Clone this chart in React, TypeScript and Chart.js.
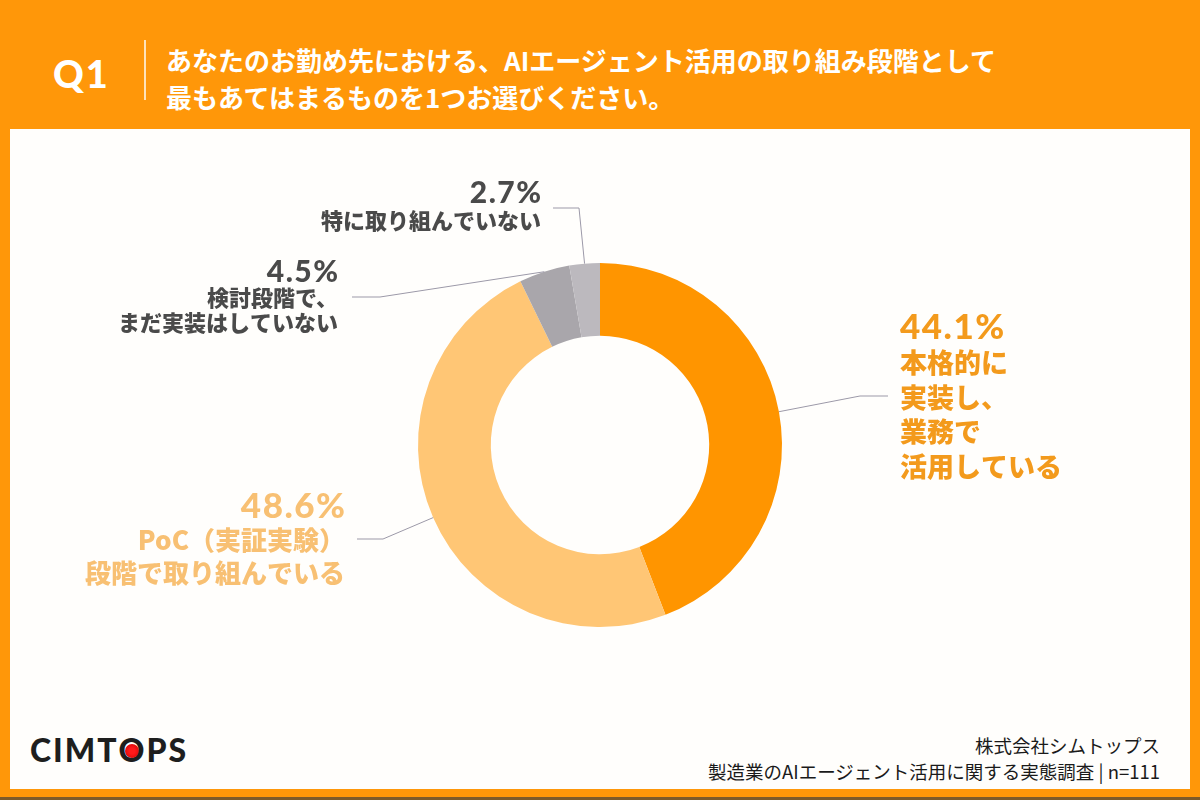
import { useEffect, useRef } from "react";
import { Chart, registerables } from "chart.js";

Chart.register(...registerables);

// Survey answers, clockwise from 12 o'clock
const categories = [
  "本格的に実装し、業務で活用している",
  "PoC（実証実験）段階で取り組んでいる",
  "検討段階で、まだ実装はしていない",
  "特に取り組んでいない",
];
const shares = [44.1, 48.6, 4.5, 2.7];
const sliceColors = ["#FF9500", "#FFC675", "#A9A6AB", "#BCB9BE"];
const labelLines = [
  ["本格的に", "実装し、", "業務で", "活用している"],
  ["PoC（実証実験）", "段階で取り組んでいる"],
  ["検討段階で、", "まだ実装はしていない"],
  ["特に取り組んでいない"],
];
const labelColors = ["#F39A1C", "#F8C073", "#4A4A4A", "#4A4A4A"];

// Callout placement (page pixels): leader elbow/end and text block
const callouts = [
  { align: "left", elbow: [860, 396], end: [888, 396], x: 900, pctY: 328, pctSize: 35, size: 27, firstY: 363, gap: 34.5 },
  { align: "right", elbow: [383, 539], end: [357, 539], x: 345, pctY: 507, pctSize: 35, size: 26, firstY: 540, gap: 33 },
  { align: "right", elbow: [380, 297], end: [352, 297], x: 338, pctY: 272, pctSize: 30, size: 22, firstY: 298, gap: 25 },
  { align: "right", elbow: [579, 208], end: [553, 208], x: 541, pctY: 193, pctSize: 30, size: 22, firstY: 221, gap: 25 },
];

const JP = '"Noto Sans CJK JP", "Noto Sans", sans-serif';
const NUM = 'Lato, "Noto Sans", sans-serif';

const calloutPlugin = {
  id: "callouts",
  afterDraw(chart: any) {
    const ctx = chart.ctx;
    const arcs = chart.getDatasetMeta(0).data;
    ctx.save();
    arcs.forEach((arc: any, i: number) => {
      const c = callouts[i];
      const { x, y, startAngle, endAngle, outerRadius } = arc.getProps(
        ["x", "y", "startAngle", "endAngle", "outerRadius"],
        true
      );
      const mid = (startAngle + endAngle) / 2;
      const ax = x + Math.cos(mid) * outerRadius;
      const ay = y + Math.sin(mid) * outerRadius;
      ctx.strokeStyle = "#9C99A8";
      ctx.lineWidth = 1;
      ctx.beginPath();
      ctx.moveTo(ax, ay);
      ctx.lineTo(c.elbow[0], c.elbow[1]);
      ctx.lineTo(c.end[0], c.end[1]);
      ctx.stroke();

      ctx.fillStyle = labelColors[i];
      ctx.textAlign = c.align as CanvasTextAlign;
      ctx.textBaseline = "middle";
      ctx.font = `900 ${c.pctSize}px ${NUM}`;
      ctx.letterSpacing = "1.5px";
      const pct = `${shares[i].toFixed(1)}%`;
      // trailing letter spacing is trimmed off right-aligned text
      const shift = c.align === "right" ? 1.5 : 0;
      ctx.fillText(pct, c.x + shift, c.pctY);
      ctx.letterSpacing = "0px";
      ctx.font = `900 ${c.size}px ${JP}`;
      labelLines[i].forEach((t, k) => {
        ctx.fillText(t, c.x, c.firstY + k * c.gap);
      });
    });
    ctx.restore();
  },
};

export default function App() {
  const canvasRef = useRef<HTMLCanvasElement | null>(null);

  useEffect(() => {
    if (!canvasRef.current) return;
    const chart = new Chart(canvasRef.current, {
      type: "doughnut",
      data: {
        labels: categories,
        datasets: [
          {
            data: shares,
            backgroundColor: sliceColors,
            borderWidth: 0,
          },
        ],
      },
      options: {
        animation: false,
        responsive: false,
        maintainAspectRatio: false,
        radius: 182,
        cutout: "60%",
        events: [],
        layout: { padding: { top: 90, bottom: 0, left: 0, right: 0 } },
        plugins: {
          legend: { display: false },
          tooltip: { enabled: false },
        },
      } as any,
      plugins: [calloutPlugin],
    });
    return () => chart.destroy();
  }, []);

  return (
    <div
      style={{
        position: "fixed",
        left: 0,
        top: 0,
        width: 1200,
        height: 800,
        background: "#FF9709",
        overflow: "hidden",
      }}
    >
      {/* header */}
      <div
        style={{
          position: "absolute",
          left: 53,
          top: 50,
          height: 44,
          lineHeight: "44px",
          font: `900 38px ${NUM}`,
          letterSpacing: "2px",
          color: "#FFFFFF",
        }}
      >
        Q1
      </div>
      <div
        style={{
          position: "absolute",
          left: 144,
          top: 40,
          width: 1.5,
          height: 60,
          background: "#FFE2B8",
        }}
      />
      <div
        style={{
          position: "absolute",
          left: 166,
          top: 41,
          lineHeight: "30px",
          font: `700 26px ${JP}`,
          color: "#FFFFFF",
          whiteSpace: "nowrap",
        }}
      >
        <div>あなたのお勤め先における、AIエージェント活用の取り組み段階として</div>
        <div>最もあてはまるものを1つお選びください。</div>
      </div>

      {/* panel */}
      <div
        style={{
          position: "absolute",
          left: 10,
          top: 129,
          width: 1180,
          height: 660,
          background: "#FFFEFC",
        }}
      />
      <div
        style={{
          position: "absolute",
          left: 0,
          top: 797,
          width: 1200,
          height: 3,
          background: "#7C5A2A",
        }}
      />

      {/* footer */}
      <div
        style={{
          position: "absolute",
          left: 30,
          top: 730,
          height: 40,
          lineHeight: "40px",
          font: `900 32px ${NUM}`,
          color: "#1E1E1E",
          letterSpacing: "2px",
          whiteSpace: "nowrap",
        }}
      >
        CIMT
        <span style={{ position: "relative", display: "inline-block" }}>
          <span
            style={{
              position: "absolute",
              left: "50%",
              top: "50%",
              width: 14,
              height: 14,
              marginLeft: -8,
              marginTop: -6,
              borderRadius: "50%",
              background: "radial-gradient(circle, #FF1A1A 30%, #D00000 100%)",
            }}
          />
          <span style={{ position: "relative" }}>O</span>
        </span>
        PS
      </div>
      <div
        style={{
          position: "absolute",
          right: 40,
          top: 732,
          lineHeight: "26px",
          font: `400 18.5px ${JP}`,
          color: "#1A1A1A",
          textAlign: "right",
          whiteSpace: "nowrap",
        }}
      >
        <div>株式会社シムトップス</div>
        <div>製造業のAIエージェント活用に関する実態調査 | n=111</div>
      </div>

      <canvas
        ref={canvasRef}
        width={1200}
        height={800}
        style={{
          position: "absolute",
          left: 0,
          top: 0,
          width: 1200,
          height: 800,
          pointerEvents: "none",
        }}
      />
    </div>
  );
}
